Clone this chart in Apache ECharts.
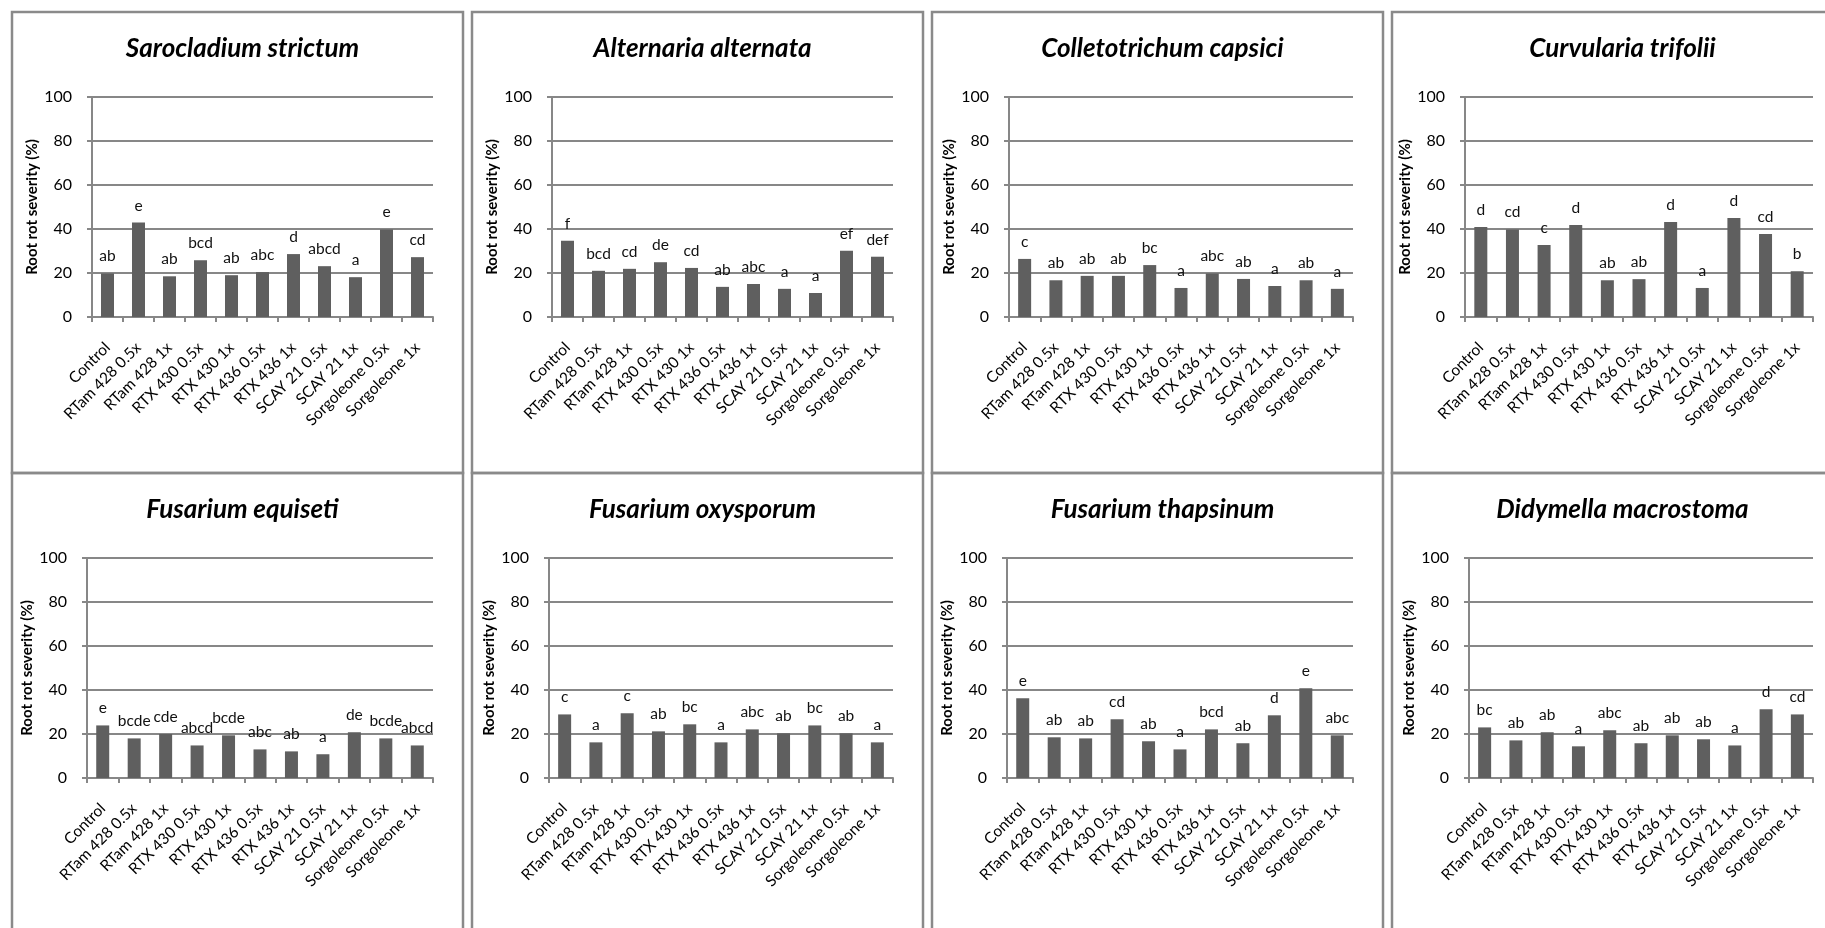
<!DOCTYPE html>
<html>
<head>
<meta charset="utf-8">
<script src="https://cdn.jsdelivr.net/npm/echarts@6/dist/echarts.min.js"></script>
<style>
  html, body { margin: 0; padding: 0; background: #ffffff; }
  #chart { width: 1825px; height: 928px; }
</style>
</head>
<body>
<div id="chart"></div>
<script>
// Treatments shown on every panel's category axis
const treatments = ['Control', 'RTam 428 0.5x', 'RTam 428 1x', 'RTX 430 0.5x', 'RTX 430 1x',
  'RTX 436 0.5x', 'RTX 436 1x', 'SCAY 21 0.5x', 'SCAY 21 1x', 'Sorgoleone 0.5x', 'Sorgoleone 1x'];

// Root rot severity (%) per pathogen, with mean-separation letters
const sarocladiumValues = [19.8, 42.9, 18.5, 25.8, 19.0, 20.4, 28.6, 23.1, 18.1, 39.8, 27.2];
const sarocladiumLetters = ['ab', 'e', 'ab', 'bcd', 'ab', 'abc', 'd', 'abcd', 'a', 'e', 'cd'];

const alternariaValues = [34.7, 21.0, 21.9, 24.9, 22.3, 13.7, 15.0, 12.8, 10.9, 30.1, 27.4];
const alternariaLetters = ['f', 'bcd', 'cd', 'de', 'cd', 'ab', 'abc', 'a', 'a', 'ef', 'def'];

const colletotrichumValues = [26.4, 16.7, 18.7, 18.7, 23.6, 13.2, 19.8, 17.3, 14.1, 16.7, 12.8];
const colletotrichumLetters = ['c', 'ab', 'ab', 'ab', 'bc', 'a', 'abc', 'ab', 'a', 'ab', 'a'];

const curvulariaValues = [40.9, 39.8, 32.7, 41.8, 16.7, 17.2, 43.2, 13.2, 45.0, 37.7, 20.8];
const curvulariaLetters = ['d', 'cd', 'c', 'd', 'ab', 'ab', 'd', 'a', 'd', 'cd', 'b'];

const equisetiValues = [23.9, 18.0, 20.0, 14.8, 19.4, 13.0, 12.1, 10.8, 20.8, 18.0, 14.8];
const equisetiLetters = ['e', 'bcde', 'cde', 'abcd', 'bcde', 'abc', 'ab', 'a', 'de', 'bcde', 'abcd'];

const oxysporumValues = [28.9, 16.2, 29.4, 21.2, 24.4, 16.2, 22.1, 20.3, 23.9, 20.3, 16.2];
const oxysporumLetters = ['c', 'a', 'c', 'ab', 'bc', 'a', 'abc', 'ab', 'bc', 'ab', 'a'];

const thapsinumValues = [36.2, 18.5, 18.0, 26.7, 16.7, 13.0, 22.1, 15.8, 28.5, 40.8, 19.4];
const thapsinumLetters = ['e', 'ab', 'ab', 'cd', 'ab', 'a', 'bcd', 'ab', 'd', 'e', 'abc'];

const didymellaValues = [23.0, 17.1, 20.8, 14.4, 21.7, 15.8, 19.4, 17.6, 14.8, 31.2, 28.9];
const didymellaLetters = ['bc', 'ab', 'ab', 'a', 'abc', 'ab', 'ab', 'ab', 'a', 'd', 'cd'];

const panelTitles = ['Sarocladium strictum', 'Alternaria alternata', 'Colletotrichum capsici',
  'Curvularia trifolii', 'Fusarium equiseti', 'Fusarium oxysporum', 'Fusarium thapsinum',
  'Didymella macrostoma'];

const yAxisTitle = 'Root rot severity (%)';
const yMin = 0, yMax = 100, yStep = 20;

const panels = [
  [sarocladiumValues, sarocladiumLetters],
  [alternariaValues, alternariaLetters],
  [colletotrichumValues, colletotrichumLetters],
  [curvulariaValues, curvulariaLetters],
  [equisetiValues, equisetiLetters],
  [oxysporumValues, oxysporumLetters],
  [thapsinumValues, thapsinumLetters],
  [didymellaValues, didymellaLetters]
];

// Panel frame geometry (2 rows x 4 columns)
const FONT = 'Lato, "Open Sans", sans-serif';
const GRAY = '#878787';
const BAR = '#5f5f5f';
const frameW = 451, frameH = 461, pitchX = 460, pitchY = 461, originX = 12, originY = 12;
const plotLeft = [80, 80, 77, 73, 75, 77, 75, 77];
const plotRight = 421, plotTop = 85, plotHeight = 220;

const grids = [], xAxes = [], yAxes = [], series = [], titles = [], frames = [];

panels.forEach(([values, letters], i) => {
  const col = i % 4, row = Math.floor(i / 4);
  const L = originX + col * pitchX;
  const T = originY + row * pitchY;

  frames.push({
    type: 'rect',
    shape: { x: L, y: T, width: frameW, height: frameH },
    style: { fill: null, stroke: '#8a8a8a', lineWidth: 2.5 },
    z: 10
  });

  titles.push({
    text: panelTitles[i],
    left: L + frameW / 2,
    top: T + 19,
    textAlign: 'center',
    textStyle: { fontFamily: FONT, fontSize: 26, fontWeight: 'bold', fontStyle: 'italic', color: '#000' }
  });

  grids.push({
    left: L + plotLeft[i],
    top: T + plotTop,
    width: plotRight - plotLeft[i],
    height: plotHeight,
    containLabel: false
  });

  xAxes.push({
    type: 'category',
    gridIndex: i,
    data: treatments,
    axisLine: { lineStyle: { color: GRAY, width: 2 } },
    axisTick: { show: true, length: 5, lineStyle: { color: GRAY, width: 2 } },
    axisLabel: { interval: 0, rotate: 45, fontFamily: FONT, fontSize: 15.5, color: '#000', margin: 28 }
  });

  yAxes.push({
    type: 'value',
    gridIndex: i,
    min: yMin, max: yMax, interval: yStep,
    name: yAxisTitle,
    nameLocation: 'middle',
    nameGap: 52,
    nameTextStyle: { fontFamily: FONT, fontSize: 15, fontWeight: 'bold', color: '#000' },
    axisLine: { show: true, lineStyle: { color: GRAY, width: 2 } },
    axisTick: { show: true, length: 5, lineStyle: { color: GRAY, width: 2 } },
    axisLabel: { fontFamily: FONT, fontSize: 16, color: '#000', margin: 20 },
    splitLine: { show: true, lineStyle: { color: GRAY, width: 2 } }
  });

  series.push({
    type: 'bar',
    xAxisIndex: i,
    yAxisIndex: i,
    data: values,
    barWidth: 13,
    itemStyle: { color: BAR },
    label: {
      show: true,
      position: 'top',
      distance: 9,
      fontFamily: FONT,
      fontSize: 15.5,
      color: '#111',
      formatter: p => letters[p.dataIndex]
    },
    animation: false
  });
});

const chart = echarts.init(document.getElementById('chart'), null, { renderer: 'canvas' });
chart.setOption({
  backgroundColor: '#ffffff',
  animation: false,
  title: titles,
  grid: grids,
  xAxis: xAxes,
  yAxis: yAxes,
  series: series,
  graphic: frames
});
</script>
</body>
</html>
